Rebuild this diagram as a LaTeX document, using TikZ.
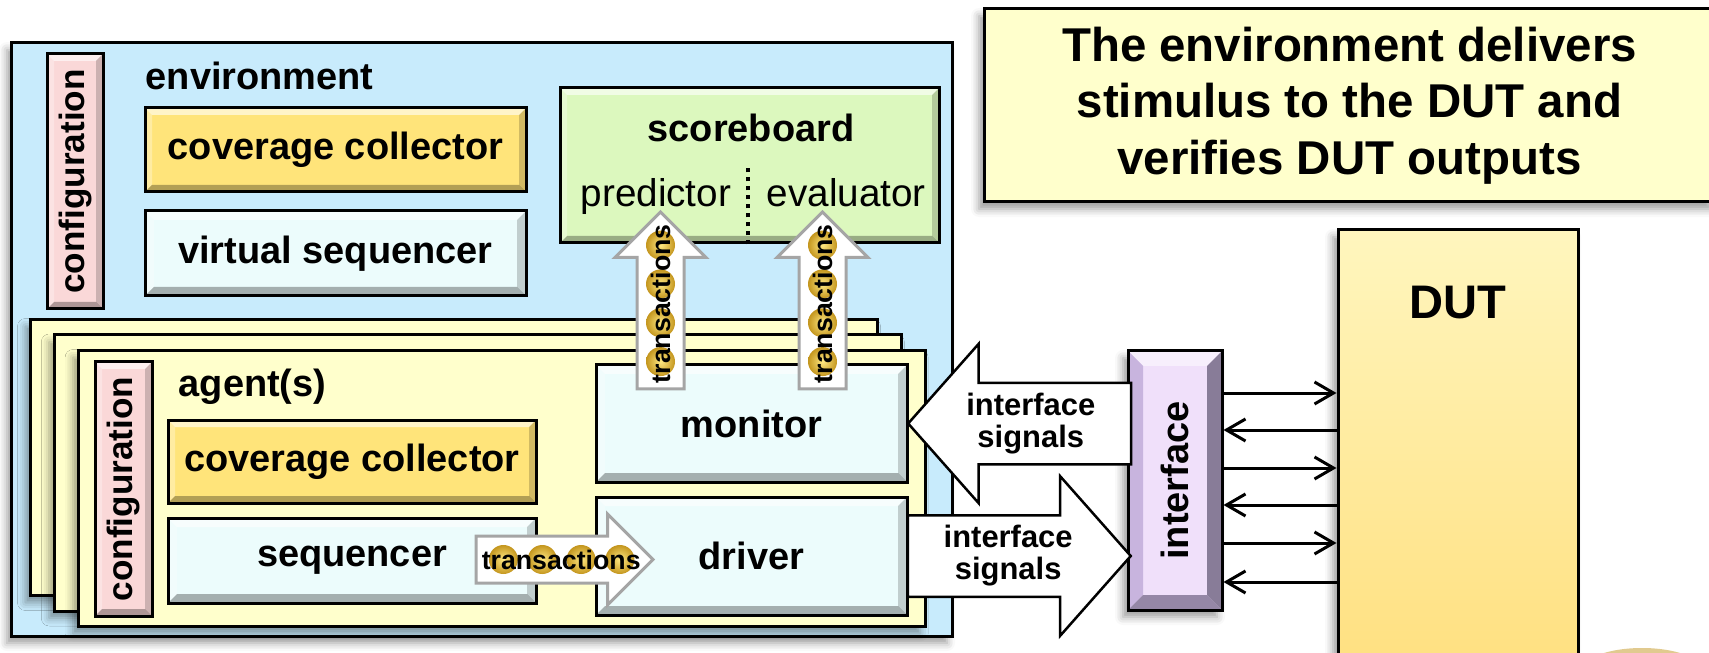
\documentclass[tikz,border=0pt]{standalone}
\usepackage{fontspec}
\setmainfont{Liberation Sans}
\usetikzlibrary{shapes.arrows,arrows.meta,positioning,calc,shadows.blur}
\definecolor{envblue}{RGB}{200,235,252}
\definecolor{agentyellow}{RGB}{255,255,204}
\definecolor{cfgpink}{RGB}{250,216,216}
\definecolor{covgold}{RGB}{255,228,122}
\definecolor{seqcyan}{RGB}{236,252,252}
\definecolor{sbgreen}{RGB}{220,248,190}
\definecolor{ifpurple}{RGB}{240,224,250}
\definecolor{ifside}{RGB}{200,180,222}
\definecolor{ifdark}{RGB}{136,124,152}
\definecolor{duttop}{RGB}{255,246,190}
\definecolor{dutbottom}{RGB}{255,224,128}
\definecolor{notebg}{RGB}{255,255,204}
\definecolor{ballgold}{RGB}{196,150,30}
\definecolor{balllight}{RGB}{255,232,130}
\definecolor{txgray}{RGB}{165,165,165}
\tikzset{
  bevel/.style={path picture={
    \path (path picture bounding box.south west) coordinate (bl)
          (path picture bounding box.north east) coordinate (tr);
    \fill[white, opacity=.6] (bl |- tr) -- (tr) -- ($(tr)+(-#1,-#1)$) -- ($(bl |- tr)+(#1,-#1)$) -- cycle;
    \fill[white, opacity=.3] (bl) -- (bl |- tr) -- ($(bl |- tr)+(#1,-#1)$) -- ($(bl)+(#1,#1)$) -- cycle;
    \fill[black, opacity=.3] (bl) -- (tr |- bl) -- ($(tr |- bl)+(-#1,#1)$) -- ($(bl)+(#1,#1)$) -- cycle;
    \fill[black, opacity=.18] (tr |- bl) -- (tr) -- ($(tr)+(-#1,-#1)$) -- ($(tr |- bl)+(-#1,#1)$) -- cycle;
  }},
  bevel/.default=0.7mm,
  ifbevel/.style={path picture={
    \path (path picture bounding box.south west) coordinate (bl)
          (path picture bounding box.north east) coordinate (tr);
    \fill[white, opacity=.5] (bl |- tr) -- (tr) -- ($(tr)+(-#1,-#1)$) -- ($(bl |- tr)+(#1,-#1)$) -- cycle;
    \fill[ifside] (bl) -- (bl |- tr) -- ($(bl |- tr)+(#1,-#1)$) -- ($(bl)+(#1,#1)$) -- cycle;
    \fill[ifdark!80!ifside] (bl) -- (tr |- bl) -- ($(tr |- bl)+(-#1,#1)$) -- ($(bl)+(#1,#1)$) -- cycle;
    \fill[ifdark] (tr |- bl) -- (tr) -- ($(tr)+(-#1,-#1)$) -- ($(tr |- bl)+(-#1,#1)$) -- cycle;
  }}
}

\begin{document}
\begin{tikzpicture}[
    x=1mm, y=-1mm,
    every node/.style={font=\bfseries\fontsize{10.8}{13}\selectfont, inner sep=0pt},
    softshadow/.style={blur shadow={shadow xshift=-0.5mm, shadow yshift=-0.7mm, shadow blur radius=0.8mm, shadow opacity=40}},
    envbox/.style={draw, line width=0.3mm, fill=envblue, softshadow},
    agentbox/.style={draw, line width=0.3mm, fill=agentyellow, minimum width=84.7mm, minimum height=27.6mm, softshadow},
    cfgbox/.style={draw, line width=0.3mm, fill=cfgpink, bevel, font=\bfseries\fontsize{10}{12}\selectfont},
    covbox/.style={draw, line width=0.3mm, fill=covgold, bevel},
    seqbox/.style={draw, line width=0.3mm, fill=seqcyan, bevel=0.9mm},
    sbbox/.style={draw, line width=0.3mm, fill=sbgreen, bevel},
    ifbox/.style={draw, line width=0.3mm, fill=ifpurple, ifbevel=1.5mm, softshadow},
    dutbox/.style={draw, line width=0.3mm, top color=duttop, bottom color=dutbottom, softshadow},
    notebox/.style={draw, line width=0.3mm, fill=notebg, align=center, softshadow, font=\bfseries\fontsize{13.5}{16.1}\selectfont},
    txarrow/.style={single arrow, draw=txgray, line width=0.3mm, fill=white, single arrow head extend=2.2mm, minimum height=17.7mm, inner xsep=0pt, inner ysep=2.2mm, text height=0pt, text depth=0pt, anchor=tail},
    txlabel/.style={font=\bfseries\fontsize{7.6}{9}\selectfont},
    sigarrow/.style={single arrow, draw, line width=0.25mm, fill=white, single arrow tip angle=97, single arrow head extend=3.9mm, minimum height=22.3mm, inner xsep=0pt, inner ysep=3.95mm, text height=0pt, text depth=0pt},
    siglabel/.style={align=center, font=\bfseries\fontsize{8.8}{9.1}\selectfont},
    wire/.style={line width=0.3mm},
    into/.style={wire, -{Straight Barb[length=1.9mm, width=2.2mm]}},
    outof/.style={wire, {Straight Barb[length=1.9mm, width=2.2mm]}-}
]
    \useasboundingbox (0,0) rectangle (170.9,65.3);

    % Environment
    \node[envbox, minimum width=94mm, minimum height=59.3mm] (env) at (48.2,33.95) {};
    \node[cfgbox, minimum width=5.6mm, minimum height=25.5mm] (envcfg) at (7.5,18.15) {\rotatebox{90}{configuration}};
    \node[anchor=base west] (envlabel) at (14.5,9.0) {environment};
    \node[covbox, minimum width=38.1mm, minimum height=8.4mm] (envcov) at (33.55,15.0) {coverage collector};
    \node[seqbox, minimum width=38.1mm, minimum height=8.5mm] (vseq) at (33.55,25.35) {virtual sequencer};

    % Scoreboard
    \node[sbbox, minimum width=37.9mm, minimum height=15.5mm] (sb) at (74.95,16.55) {};
    \node[anchor=base] (sblabel) at (75.1,14.2) {scoreboard};
    \node[anchor=base west, font=\fontsize{11}{13}\selectfont] (pred) at (58.0,20.7) {predictor};
    \node[anchor=base west, font=\fontsize{11}{13}\selectfont] (eval) at (76.6,20.7) {evaluator};
    \draw[line width=0.45mm, dash pattern=on 0.45mm off 0.45mm] ([xshift=-0.15mm]sb.south) -- ++(0,-7.9);

    % Agents (stacked)
    \foreach \i in {0,1,2}
        \node[agentbox] (agent\i) at ({45.4+2.38*\i},{45.75+1.55*\i}) {};
    \node[cfgbox, minimum width=5.7mm, minimum height=25.4mm] (agcfg) at (12.35,48.9) {\rotatebox{90}{configuration}};
    \node[anchor=base west] (aglabel) at (17.8,39.7) {agent(s)};
    \node[covbox, minimum width=36.8mm, minimum height=8.3mm] (agcov) at (35.2,46.15) {coverage collector};
    \node[seqbox, minimum width=36.8mm, minimum height=8.5mm] (seq) at (35.2,56.05) {sequencer};
    \node[seqbox, minimum width=31.1mm, minimum height=11.7mm] (monitor) at (75.15,42.35) {monitor};
    \node[seqbox, minimum width=31.1mm, minimum height=11.8mm] (driver) at (75.15,55.6) {driver};

    % Transaction arrows
    \node[txarrow, rotate=90] (txpred) at ([xshift=-9.1mm, yshift=-2.7mm]monitor.north) {};
    \node[txarrow, rotate=90] (txeval) at ([xshift=7.1mm, yshift=-2.7mm]monitor.north) {};
    \node[txarrow] (txdrv) at ([xshift=-6.3mm, yshift=0.1mm]seq.east) {};
    \foreach \a/\r in {txpred/90, txeval/90, txdrv/0} {
        \foreach \t in {.16,.375,.59,.805}
            \shade[inner color=balllight, outer color=ballgold] ($(\a.tail)!\t!(\a.tip)$) circle (1.45mm);
        \node[txlabel, rotate=\r] at ($(\a.tail)!0.48!(\a.tip)$) {transactions};
    }

    % Interface and DUT
    \node[ifbox, minimum width=9.4mm, minimum height=25.9mm] (iface) at (117.5,48.05) {\rotatebox{90}{interface}};
    \node[sigarrow, rotate=180, anchor=tip] (sigin) at ([xshift=-0.2mm]monitor.east) {};
    \node[sigarrow, anchor=tail] (sigout) at ([xshift=-0.2mm]driver.east) {};
    \node[siglabel] at ($(sigin.tail)!0.45!(sigin.tip)$) {interface\\signals};
    \node[siglabel] at ($(sigout.tail)!0.45!(sigout.tip)$) {interface\\signals};
    \node[dutbox, minimum width=24mm, minimum height=44mm] (dut) at (145.8,45.0) {};
    \node[font=\bfseries\fontsize{13.4}{16}\selectfont] (dutlabel) at (145.8,30.3) {DUT};
    \foreach \y/\dir in {39.3/into, 43.0/outof, 46.8/into, 50.5/outof, 54.3/into, 58.2/outof}
        \draw[\dir] (iface.east |- 0,\y) -- (dut.west |- 0,\y);

    % Note
    \node[notebox, minimum width=73.1mm, minimum height=19.3mm] (note) at (134.95,10.55) {The environment delivers\\stimulus to the DUT and\\verifies DUT outputs};

    \fill[ballgold!50] (164.2,67.0) ellipse (6 and 2.2);
\end{tikzpicture}
\end{document}
